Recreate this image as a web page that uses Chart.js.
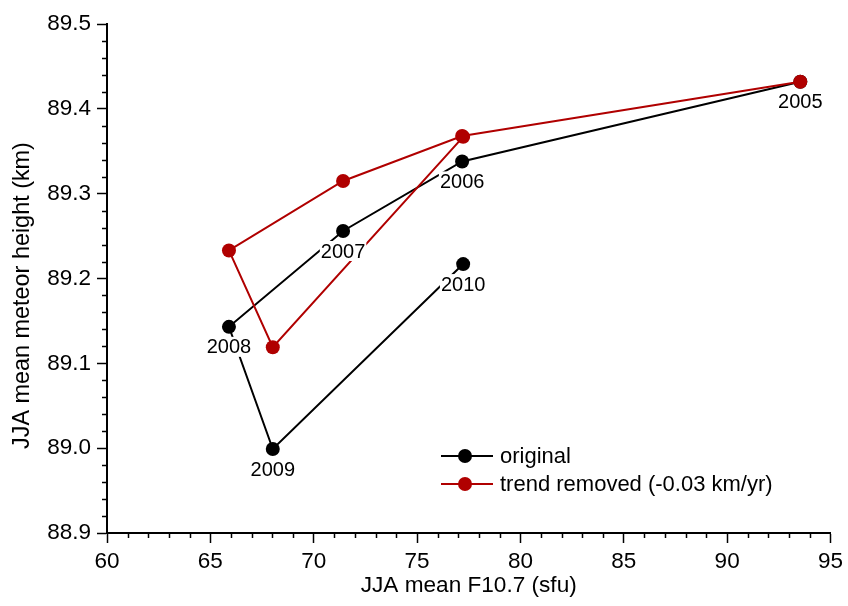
<!DOCTYPE html>
<html><head><meta charset="utf-8">
<script src="https://cdn.jsdelivr.net/npm/chart.js@4.4.0/dist/chart.umd.min.js"></script>
<style>html,body{margin:0;padding:0;background:#fff}#wrap{width:848px;height:606px}</style>
</head><body><div id="wrap"><canvas id="c" width="848" height="606"></canvas></div>
<script>
// ---- data ----
const years = [2005, 2006, 2007, 2008, 2009, 2010];
const f107 = [93.54, 77.18, 71.42, 65.90, 68.02, 77.23];
const heightOriginal = [89.432, 89.338, 89.256, 89.143, 88.999, 89.217];
const heightTrendRemoved = [89.432, 89.368, 89.315, 89.233, 89.119, 89.367];
const seriesNames = ['original', 'trend removed (-0.03 km/yr)'];
const xTickValues = [60, 65, 70, 75, 80, 85, 90, 95];
const yTickValues = [88.9, 89.0, 89.1, 89.2, 89.3, 89.4, 89.5];
const xTitle = 'JJA mean F10.7 (sfu)';
const yTitle = 'JJA mean meteor height (km)';

const FONT = '"Liberation Sans", Arial, sans-serif';
const BLACK = '#000000';
const RED = '#b00000';

const toPoints = (xs, ys) => xs.map((x, i) => ({x: x, y: ys[i]}));

const annotPlugin = {
  id: 'annot',
  afterDatasetsDraw(chart) {
    const ctx = chart.ctx;
    const xs = chart.scales.x, ys = chart.scales.y;
    ctx.save();
    ctx.font = '20px ' + FONT;
    ctx.textAlign = 'center';
    ctx.textBaseline = 'middle';
    years.forEach((yr, i) => {
      const px = xs.getPixelForValue(f107[i]);
      const py = ys.getPixelForValue(heightOriginal[i]) + 20;
      const t = String(yr);
      const w = ctx.measureText(t).width;
      ctx.fillStyle = '#ffffff';
      ctx.fillRect(px - w / 2 - 1, py - 10, w + 2, 20);
      ctx.fillStyle = BLACK;
      ctx.fillText(t, px, py + 1);
    });
    ctx.restore();
  },
  afterDraw(chart) {
    const ctx = chart.ctx;
    const xs = chart.scales.x, ys = chart.scales.y;
    const area = chart.chartArea;
    ctx.save();
    // minor ticks
    ctx.strokeStyle = BLACK;
    ctx.lineWidth = 1.5;
    ctx.beginPath();
    for (let v = xs.min; v <= xs.max + 1e-9; v += 1) {
      if (Math.abs(v / 5 - Math.round(v / 5)) < 1e-6) continue;
      const p = Math.round(xs.getPixelForValue(v)) + 0.5;
      ctx.moveTo(p, area.bottom);
      ctx.lineTo(p, area.bottom + 5);
    }
    for (let k = 0; k <= 30; k++) {
      if (k % 5 === 0) continue;
      const v = ys.min + k * 0.02;
      const p = Math.round(ys.getPixelForValue(v)) + 0.5;
      ctx.moveTo(area.left, p);
      ctx.lineTo(area.left - 5, p);
    }
    ctx.stroke();

    // y-axis title
    ctx.fillStyle = BLACK;
    ctx.font = '23.4px ' + FONT;
    ctx.textAlign = 'center';
    ctx.textBaseline = 'middle';
    ctx.save();
    ctx.translate(23, (area.top + area.bottom) / 2 + 17);
    ctx.rotate(-Math.PI / 2);
    ctx.fillText(yTitle, 0, 0);
    ctx.restore();

    // legend
    const lx0 = area.left + 334, lx1 = area.left + 386, mx = area.left + 358;
    const rows = [{c: BLACK, y: 456}, {c: RED, y: 484}];
    ctx.font = '22px ' + FONT;
    ctx.textAlign = 'left';
    ctx.textBaseline = 'middle';
    rows.forEach((r, i) => {
      ctx.strokeStyle = r.c;
      ctx.lineWidth = 2;
      ctx.beginPath();
      ctx.moveTo(lx0, r.y); ctx.lineTo(lx1, r.y);
      ctx.stroke();
      ctx.fillStyle = r.c;
      ctx.beginPath();
      ctx.arc(mx, r.y, 7, 0, Math.PI * 2);
      ctx.fill();
      ctx.fillStyle = BLACK;
      ctx.fillText(seriesNames[i], lx1 + 7, r.y + 1);
    });
    ctx.restore();
  }
};

new Chart(document.getElementById('c'), {
  type: 'scatter',
  data: {
    datasets: [
      {
        label: seriesNames[0],
        data: toPoints(f107, heightOriginal),
        showLine: true,
        borderColor: BLACK,
        backgroundColor: BLACK,
        pointBackgroundColor: BLACK,
        pointBorderColor: BLACK,
        borderWidth: 2,
        pointRadius: 7,
        pointBorderWidth: 0,
        order: 1
      },
      {
        label: seriesNames[1],
        data: toPoints(f107, heightTrendRemoved),
        showLine: true,
        borderColor: RED,
        backgroundColor: RED,
        pointBackgroundColor: RED,
        pointBorderColor: RED,
        borderWidth: 2,
        pointRadius: 7,
        pointBorderWidth: 0,
        order: 0
      }
    ]
  },
  options: {
    responsive: false,
    animation: false,
    devicePixelRatio: 1,
    layout: {padding: {left: 0, right: 15, top: 24, bottom: 0}},
    plugins: {legend: {display: false}, tooltip: {enabled: false}},
    scales: {
      x: {
        type: 'linear',
        min: 60, max: 95,
        afterBuildTicks: (s) => { s.ticks = xTickValues.map(v => ({value: v})); },
        afterFit: (s) => { s.height = 73; },
        ticks: {font: {family: FONT, size: 22.5}, color: BLACK, padding: 5, maxRotation: 0,
                callback: (v) => String(v)},
        grid: {display: true, drawOnChartArea: false, drawTicks: true, tickLength: 10,
               color: BLACK, tickColor: BLACK, tickWidth: 1.5},
        border: {display: true, color: BLACK, width: 2},
        title: {display: true, text: xTitle, font: {family: FONT, size: 22.6}, color: BLACK,
                padding: {top: 0, bottom: 7}}
      },
      y: {
        type: 'linear',
        min: 88.9, max: 89.5,
        afterBuildTicks: (s) => { s.ticks = yTickValues.map(v => ({value: v})); },
        afterFit: (s) => { s.width = 107; },
        ticks: {font: {family: FONT, size: 22.5}, color: BLACK, padding: 6,
                callback: (v) => Number(v).toFixed(1)},
        grid: {display: true, drawOnChartArea: false, drawTicks: true, tickLength: 10,
               color: BLACK, tickColor: BLACK, tickWidth: 1.5},
        border: {display: true, color: BLACK, width: 2},
        title: {display: false}
      }
    }
  },
  plugins: [annotPlugin]
});
</script>
</body></html>
